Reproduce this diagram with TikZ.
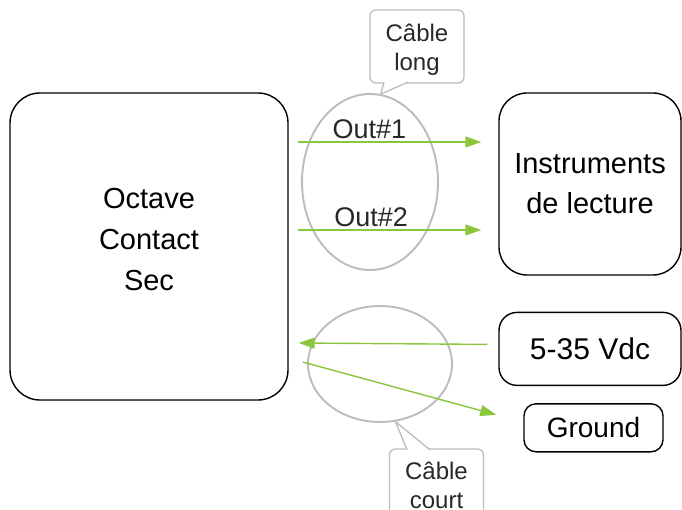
\documentclass[tikz,border=0pt]{standalone}
\usepackage{fontspec}
\setmainfont{Liberation Sans}
\usetikzlibrary{arrows.meta, positioning, shapes.geometric, calc}
\definecolor{WireGreen} {RGB}{140, 198,  63}
\definecolor{LoopGray}  {RGB}{188, 188, 188}
\definecolor{NoteGray}  {RGB}{188, 188, 188}
\definecolor{NoteText}  {RGB}{ 40,  40,  40}
\tikzset{
  % Device / instrument box
  devnode/.style={
    rectangle, draw=black, line width=1.4pt, fill=white,
    text=black, inner sep=0pt, align=center
  },
  % Cable bundle ellipse
  loopnode/.style={
    ellipse, draw=LoopGray, line width=1.9pt,
    inner sep=0pt
  },
  % Callout text box
  notenode/.style={
    rectangle, rounded corners=6pt,
    draw=NoteGray, line width=1.3pt, fill=white,
    text=NoteText, font=\fontsize{24}{29}\selectfont,
    inner sep=0pt, minimum width=94pt, minimum height=73pt,
    align=center
  },
  % Callout pointer
  notetip/.style={
    draw=NoteGray, line width=1.3pt, fill=white, line join=miter
  },
  % Signal wire
  wirearrow/.style={
    -{Triangle[length=16pt, width=11pt]}, line width=1.4pt, color=WireGreen
  },
  % Wire label
  wirelabel/.style={
    font=\fontsize{27}{30}\selectfont, text=NoteText, above, inner sep=3pt
  }
}

\begin{document}
\begin{tikzpicture}[x=1pt, y=1pt]

  \useasboundingbox (0,0) rectangle (682,509);
  \clip (0,0) rectangle (682,509);

  % ── Devices ───────────────────────────────────────────────────────────────
  \node[devnode, rounded corners=30pt, minimum width=278pt, minimum height=307pt,
        label={[align=center, font=\fontsize{29}{41}\selectfont, yshift=7pt]center:Octave\\Contact\\Sec}]
        (octave) at (149,262.5) {};

  \node[devnode, rounded corners=28pt, minimum width=182pt, minimum height=182pt,
        font=\fontsize{29}{40}\selectfont]
        (instr) at (590,325) {Instruments\\de lecture};

  \node[devnode, rounded corners=18pt, minimum width=182pt, minimum height=73pt,
        font=\fontsize{30}{36}\selectfont, below=36pt of instr]
        (vdc) {5-35 Vdc};

  \node[devnode, rounded corners=12pt, minimum width=139pt, minimum height=48pt,
        font=\fontsize{28}{34}\selectfont, below=17pt of vdc, xshift=3.5pt]
        (ground) {Ground};

  % ── Cable bundles ─────────────────────────────────────────────────────────
  \node[loopnode, minimum width=136pt, minimum height=176pt] (long_loop) at (370,327) {};
  \node[loopnode, minimum width=144pt, minimum height=116pt] (short_loop) at (380,145) {};

  % ── Wires ─────────────────────────────────────────────────────────────────
  \draw[wirearrow] ($(octave.east)+(9,104.5)$) -- node[wirelabel, pos=0.39]{Out\#1}
        ($(instr.west)+(-17,42)$);
  \draw[wirearrow] ($(octave.east)+(9,16.5)$) -- node[wirelabel, pos=0.4]{Out\#2}
        ($(instr.west)+(-17,-46)$);
  \draw[wirearrow] ($(vdc.west)+(-11,4.5)$) -- ($(octave.east)+(10,-96.5)$);
  \draw[wirearrow] ($(octave.east)+(14,-115.5)$) -- ($(ground.west)+(-27,13)$);

  % ── Callouts ──────────────────────────────────────────────────────────────
  \node[notenode, label={[align=center, text=NoteText, font=\fontsize{24}{29}\selectfont, yshift=-3pt]center:Câble\\long}]
        (long_note) at (417,462.5) {};
  \draw[notetip] ($(long_note.south)+(-33,1.5)$) -- (long_loop.83)
        -- ($(long_note.south)+(-9,1.5)$);

  \node[notenode] (short_note) at (436.5,23.5) {Câble\\court};
  \draw[notetip] ($(short_note.north)+(-29.5,-1.5)$) -- (short_loop.-75)
        -- ($(short_note.north)+(-6.5,-1.5)$);

\end{tikzpicture}
\end{document}
